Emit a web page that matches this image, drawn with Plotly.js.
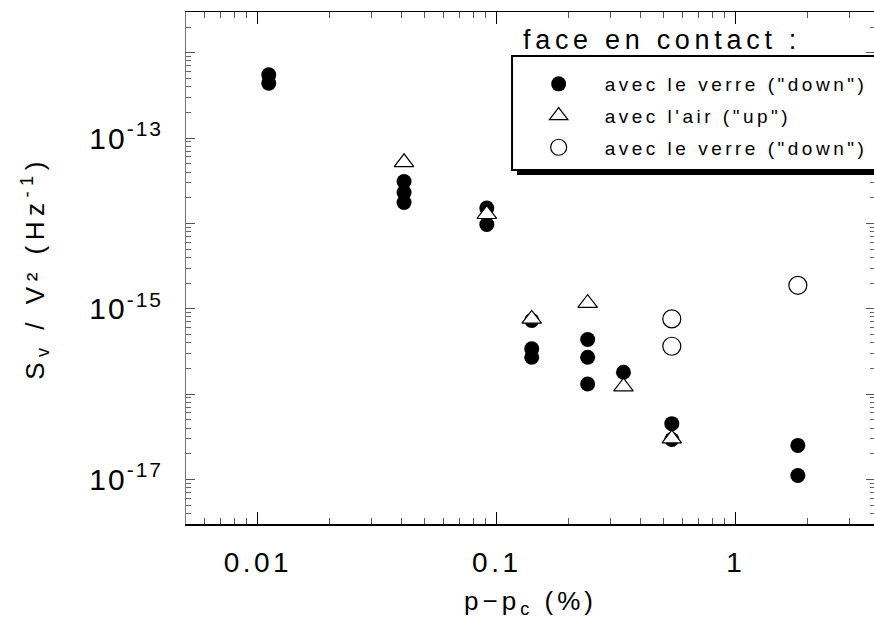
<!DOCTYPE html>
<html>
<head>
<meta charset="utf-8">
<script src="https://cdn.plot.ly/plotly-3.0.1.min.js"></script>
<style>
html, body { margin: 0; padding: 0; overflow: hidden; background: #fff; }
#chart { width: 880px; height: 623px; }
.legendtext { letter-spacing: 3.5px; }
.annotation-text { letter-spacing: 4.7px; }
.xtick text { letter-spacing: 3.5px; }
.ytick text { letter-spacing: 2px; }
.g-xtitle text { letter-spacing: 4px; }
.g-ytitle text { letter-spacing: 5.5px; }
</style>
</head>
<body>
<div id="chart"></div>
<script>
// p - pc (%) and Sv/V^2 (Hz^-1)
const downFilledX = [0.0111, 0.0111, 0.0409, 0.0409, 0.0409, 0.0908, 0.0908, 0.140, 0.140, 0.140, 0.240, 0.240, 0.240, 0.339, 0.540, 0.540, 1.82, 1.82];
const downFilledY = [5.5e-13, 4.4e-13, 3.1e-14, 2.3e-14, 1.76e-14, 1.51e-14, 9.7e-15, 7.3e-16, 3.4e-16, 2.7e-16, 4.35e-16, 2.7e-16, 1.31e-16, 1.8e-16, 4.5e-17, 2.93e-17, 2.5e-17, 1.11e-17];
const upX = [0.0409, 0.0908, 0.140, 0.240, 0.339, 0.540];
const upY = [5.2e-14, 1.28e-14, 7.6e-16, 1.16e-15, 1.22e-16, 3.0e-17];
const downOpenX = [0.540, 0.540, 1.82];
const downOpenY = [7.6e-16, 3.63e-16, 1.88e-15];

const seriesNames = ['avec le verre ("down")', "avec l'air (\"up\")", 'avec le verre ("down")'];
const legendTitle = 'face en contact :';
const xTickVals = [0.01, 0.1, 1];
const xTickText = ['0.01', '0.1', '1'];
const yTickVals = [1e-17, 1e-16, 1e-15, 1e-14, 1e-13, 1e-12];
const yTickText = ['10<sup>-17</sup>', '', '10<sup>-15</sup>', '', '10<sup>-13</sup>', ''];

function minorVals(lo, hi) {
  const out = [];
  for (let e = lo; e <= hi; e++) for (let m = 2; m <= 9; m++) out.push(m * Math.pow(10, e));
  return out;
}

const font = 'Liberation Sans, Arial, Helvetica, sans-serif';

const traces = [
  { x: downFilledX, y: downFilledY, name: seriesNames[0], legendgroup: 'a', mode: 'markers', type: 'scatter',
    marker: { symbol: 'circle', size: 15, color: '#000', line: { width: 0 } } },
  { x: upX, y: upY, name: seriesNames[1], legendgroup: 'b', mode: 'markers', type: 'scatter',
    marker: { symbol: 'triangle-up', size: 17, color: '#fff', line: { width: 1.2, color: '#000' } } },
  { x: downOpenX, y: downOpenY, name: seriesNames[2], legendgroup: 'c', mode: 'markers', type: 'scatter',
    marker: { symbol: 'circle', size: 18, color: '#fff', line: { width: 1.2, color: '#000' } } }
];

const layout = {
  width: 880, height: 623,
  margin: { l: 186, r: 5, t: 12, b: 99 },
  paper_bgcolor: '#fff', plot_bgcolor: '#fff',
  font: { family: font, color: '#000' },
  showlegend: true,
  legend: {
    x: 0.4741, y: 0.8965, xanchor: 'left', yanchor: 'top',
    borderwidth: 0, bgcolor: 'rgba(0,0,0,0)',
    font: { family: font, size: 19, color: '#000' },
    itemwidth: 82, tracegroupgap: 4
  },
  xaxis: {
    type: 'log', range: [Math.log10(0.005), 0.583],
    showgrid: false, zeroline: false,
    showline: true, linecolor: '#000', linewidth: 1.5, mirror: 'ticks',
    ticks: 'inside', ticklen: 12, tickwidth: 1, tickcolor: '#000',
    tickmode: 'array', tickvals: xTickVals, ticktext: xTickText,
    tickfont: { family: font, size: 28, color: '#000' }, ticklabelstandoff: 13,
    minor: { tickmode: 'array', tickvals: minorVals(-3, 0), ticks: 'inside', ticklen: 6, tickwidth: 1, tickcolor: '#555' },
    title: { text: 'p\u2212p<sub>c</sub> (%)', font: { family: font, size: 26, color: '#000' }, standoff: 14 }
  },
  yaxis: {
    type: 'log', range: [Math.log10(3e-18), Math.log10(3e-12)],
    showgrid: false, zeroline: false,
    showline: true, linecolor: '#777', linewidth: 1, mirror: 'ticks',
    ticks: 'inside', ticklen: 9, tickwidth: 1, tickcolor: '#555',
    tickmode: 'array', tickvals: yTickVals, ticktext: yTickText,
    tickfont: { family: font, size: 30, color: '#000' }, ticklabelstandoff: 16,
    minor: { tickmode: 'array', tickvals: minorVals(-18, -12), ticks: 'inside', ticklen: 5, tickwidth: 1, tickcolor: '#666' },
    title: { text: 'S<sub>v</sub> / V\u00b2 (Hz<sup>-1</sup>)', font: { family: font, size: 26, color: '#000' }, standoff: 37 }
  },
  shapes: [
    { type: 'rect', xref: 'paper', yref: 'paper', x0: 0.4804, x1: 1.2, y0: 0.6816, y1: 0.9043,
      fillcolor: '#000', line: { width: 0 }, layer: 'above' },
    { type: 'rect', xref: 'paper', yref: 'paper', x0: 0.4732, x1: 1.01, y0: 0.6914, y1: 0.9141,
      fillcolor: '#fff', line: { width: 2, color: '#000' }, layer: 'above' }
  ],
  annotations: [
    { text: legendTitle, xref: 'paper', yref: 'paper', x: 0.486, y: 0.945, xanchor: 'left', yanchor: 'middle',
      showarrow: false, font: { family: font, size: 27, color: '#000' } }
  ]
};

Plotly.newPlot('chart', traces, layout, { displayModeBar: false, staticPlot: true });
</script>
</body>
</html>
